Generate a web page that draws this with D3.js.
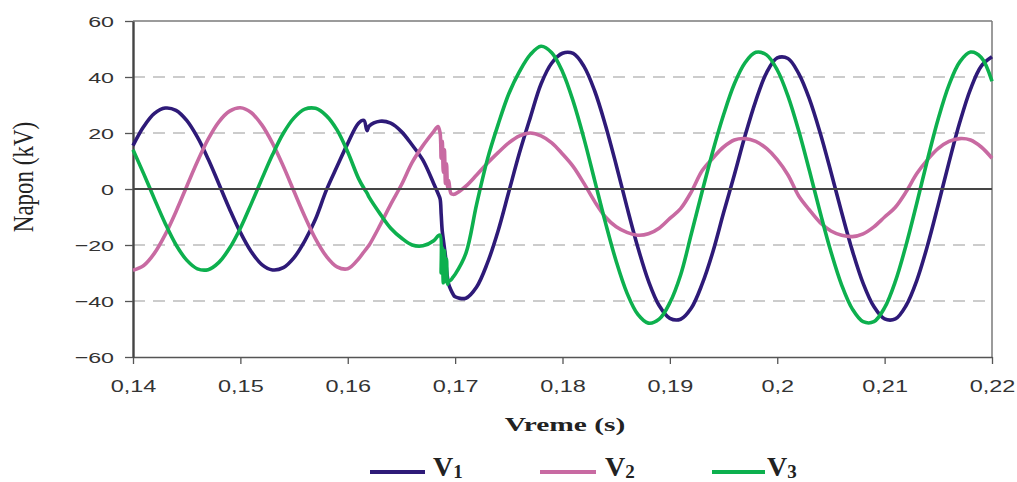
<!DOCTYPE html>
<html>
<head>
<meta charset="utf-8">
<script src="https://cdn.jsdelivr.net/npm/d3@7"></script>
<style>
  html, body { margin: 0; padding: 0; background: #ffffff; }
  svg { display: block; }
</style>
</head>
<body>
<svg id="chart" width="1017" height="482"></svg>
<script>
// ---- data ----
const times = [
  0.140,0.141,0.142,0.143,0.144,0.145,0.146,0.147,0.148,0.149,
  0.150,0.151,0.152,0.153,0.154,0.155,0.156,0.157,0.158,0.159,
  0.160,0.161,0.1615,0.1618,0.162,0.163,0.164,0.165,0.166,0.167,0.168,
  0.1684,0.1686,0.1687,0.1688,0.1689,0.1690,0.1691,0.1692,0.1693,0.1694,0.1696,0.1698,
  0.170,0.171,0.172,0.173,0.174,0.175,0.176,0.177,0.178,0.179,
  0.180,0.181,0.182,0.183,0.184,0.185,0.186,0.187,0.188,0.189,
  0.190,0.191,0.192,0.193,0.194,0.195,0.196,0.197,0.198,0.199,
  0.200,0.201,0.202,0.203,0.204,0.205,0.206,0.207,0.208,0.209,
  0.210,0.211,0.212,0.213,0.214,0.215,0.216,0.217,0.218,0.219,
  0.220
];
const v1 = [
  15.5,22.3,27.0,28.9,28.1,24.5,18.5,10.7,1.8,-7.2,
  -15.5,-22.3,-27.0,-28.9,-28.1,-24.5,-18.5,-10.7,-0.5,8.0,
  16.3,23.5,24.5,20.8,22.5,24.2,23.5,20.5,15.7,10.3,2.0,
  -1.5,-3.5,-9,-15,-18,-21,-24,-29,-32,-34,-36,-37.5,
  -38.5,-39,-35,-26.5,-15,-1,13,25.5,37.5,45,
  48.5,48.4,43.8,35.0,22.8,8.6,-6.4,-20.6,-32.8,-41.6,
  -46.2,-46.5,-42.5,-34,-22.5,-8.5,5,19,31.5,41.5,
  46.8,46.6,41.2,32.1,20.0,6.1,-8.4,-22.1,-33.7,-42.0,
  -46.4,-46.4,-41.6,-32.6,-20.1,-5.5,9.6,23.8,35.7,43.9,
  47.2
];
const v2 = [
  -29.0,-27.3,-22.9,-16.3,-8.1,0.9,9.8,17.8,24.0,27.8,
  29.0,27.3,22.9,16.3,8.1,-0.9,-9.8,-17.8,-24.0,-27.8,
  -28.5,-25,-22.5,-21,-20,-13,-5.5,1.5,9.5,15.5,20.5,
  22.3,20,11,17,6,14,2,9,0.5,3,-1.5,-1.9,
  -1.8,1.0,5.0,9.2,13.0,16.5,19.0,20.0,19.0,16.5,
  12.5,8.0,2.0,-4.5,-10,-13.5,-15.5,-16.5,-16.0,-14,
  -10.5,-7,-1,6.5,11,15,17.5,18,17,14.5,
  10.5,5,-2.5,-7.5,-12,-15,-16.5,-17,-16,-13.5,
  -10,-6.5,-1,5.5,10.5,14.5,17,18,17.5,15,
  11
];
const v3 = [
  14.0,5.4,-3.6,-12.3,-19.9,-25.4,-28.5,-28.8,-26.2,-21.1,
  -14.0,-5.4,3.6,12.3,19.9,25.4,28.5,28.8,26.2,21.1,
  13.2,3.8,0.3,-1.5,-3,-8.8,-14,-17.5,-20,-20.3,-18.5,
  -16.8,-16.5,-30,-21,-33.5,-22,-33,-25,-34,-33,-32.5,-31.5,
  -30.5,-23,-5.5,10.5,23,34,42,48,51,48.7,
  41.9,31.3,18.0,3.0,-12.0,-25.8,-37.1,-44.7,-47.9,-46.5,
  -40.6,-30.7,-16,-1,13.5,26.5,37.5,45.1,48.8,47.9,
  42.5,33.2,20.8,6.5,-8.4,-22.4,-34.3,-42.9,-47.4,-47.4,
  -42.4,-33.0,-20.0,-5.0,10.6,25.2,37.2,45.4,48.9,47,
  38.5
];
const seriesNames = ["V", "V", "V"];
const seriesSubs = ["1", "2", "3"];
const seriesColors = ["#2e1a78", "#c86aa2", "#0db04e"];
const xTicks = [0.14,0.15,0.16,0.17,0.18,0.19,0.20,0.21,0.22];
const xTickLabels = ["0,14","0,15","0,16","0,17","0,18","0,19","0,2","0,21","0,22"];
const yTicks = [-60,-40,-20,0,20,40,60];
const yGrid = [-40,-20,20,40];
const xTitle = "Vreme (s)";
const yTitle = "Napon (kV)";

// ---- layout ----
const svg = d3.select("#chart");
const L = 133, R = 992, T = 21, B = 357;
const x = d3.scaleLinear().domain([0.14, 0.22]).range([L, R]);
const y = d3.scaleLinear().domain([-60, 60]).range([B, T]);

svg.append("rect").attr("width", 1017).attr("height", 482).attr("fill", "#ffffff");

// dashed gridlines
svg.append("g").selectAll("line").data(yGrid).join("line")
  .attr("x1", L).attr("x2", R)
  .attr("y1", d => y(d)).attr("y2", d => y(d))
  .attr("stroke", "#9a9a9a").attr("stroke-width", 1.2)
  .attr("stroke-dasharray", "12,8");

// frame top and right
svg.append("line").attr("x1", L).attr("x2", R).attr("y1", T).attr("y2", T)
  .attr("stroke", "#7a7a7a").attr("stroke-width", 1.5);
svg.append("line").attr("x1", R).attr("x2", R).attr("y1", T).attr("y2", B)
  .attr("stroke", "#7a7a7a").attr("stroke-width", 1.5);

// x axis
const xAxis = d3.axisBottom(x).tickValues(xTicks)
  .tickFormat((d, i) => xTickLabels[i]).tickSize(7).tickSizeOuter(0);
const gx = svg.append("g").attr("transform", `translate(0,${B})`).call(xAxis);
gx.select(".domain").attr("stroke", "#555").attr("stroke-width", 1.6);
gx.selectAll(".tick line").attr("stroke", "#555").attr("stroke-width", 1.3);
const sxX = 1.38;
gx.selectAll(".tick text")
  .attr("y", 35).attr("dy", null)
  .attr("transform", `scale(${sxX},1)`)
  .attr("font-family", "'Liberation Sans', Arial, sans-serif")
  .attr("font-size", 17).attr("fill", "#333");

// y axis
const yAxis = d3.axisLeft(y).tickValues(yTicks).tickSize(8).tickSizeOuter(0);
const gy = svg.append("g").attr("transform", `translate(${L},0)`).call(yAxis);
gy.select(".domain").attr("stroke", "#444").attr("stroke-width", 2.4);
gy.selectAll(".tick line").attr("stroke", "#555").attr("stroke-width", 1.3);
const sxY = 1.5;
gy.selectAll(".tick text")
  .attr("x", -19 / sxY).attr("dy", "0.36em")
  .attr("transform", `scale(${sxY},1)`)
  .attr("font-family", "'Liberation Sans', Arial, sans-serif")
  .attr("font-size", 15.5).attr("fill", "#333");

// series
const line = d3.line().curve(d3.curveCatmullRom.alpha(0.5))
  .x((d, i) => x(times[i])).y(d => y(d));
[v1, v2, v3].forEach((s, k) => {
  svg.append("path").datum(s)
    .attr("d", line)
    .attr("fill", "none")
    .attr("stroke", seriesColors[k])
    .attr("stroke-width", 3.6)
    .attr("stroke-linejoin", "round");
});

// zero line
svg.append("line").attr("x1", L).attr("x2", R).attr("y1", y(0)).attr("y2", y(0))
  .attr("stroke", "#454545").attr("stroke-width", 2);

// axis titles
svg.append("text")
  .attr("transform", `translate(565,431) scale(1.55,1)`)
  .attr("text-anchor", "middle")
  .attr("font-family", "'Liberation Serif', 'Times New Roman', serif")
  .attr("font-weight", "bold").attr("font-size", 19).attr("fill", "#222")
  .text(xTitle);

svg.append("text")
  .attr("transform", `translate(33,177) scale(1.3,1) rotate(-90)`)
  .attr("text-anchor", "middle")
  .attr("font-family", "'Liberation Serif', 'Times New Roman', serif")
  .attr("font-size", 23).attr("fill", "#222")
  .text(yTitle);

// legend
const legendLineX = [[370, 425], [540, 596], [712, 765]];
const legendTextX = [433, 605, 767];
const lg = svg.append("g");
seriesColors.forEach((c, k) => {
  lg.append("line")
    .attr("x1", legendLineX[k][0]).attr("x2", legendLineX[k][1])
    .attr("y1", 472).attr("y2", 472)
    .attr("stroke", c).attr("stroke-width", 4);
  const t = lg.append("text")
    .attr("x", legendTextX[k]).attr("y", 476)
    .attr("font-family", "'Liberation Serif', 'Times New Roman', serif")
    .attr("font-weight", "bold").attr("fill", "#222");
  t.append("tspan").attr("font-size", 28).text(seriesNames[k]);
  t.append("tspan").attr("font-size", 19).attr("dy", 2).text(seriesSubs[k]);
});
</script>
</body>
</html>
